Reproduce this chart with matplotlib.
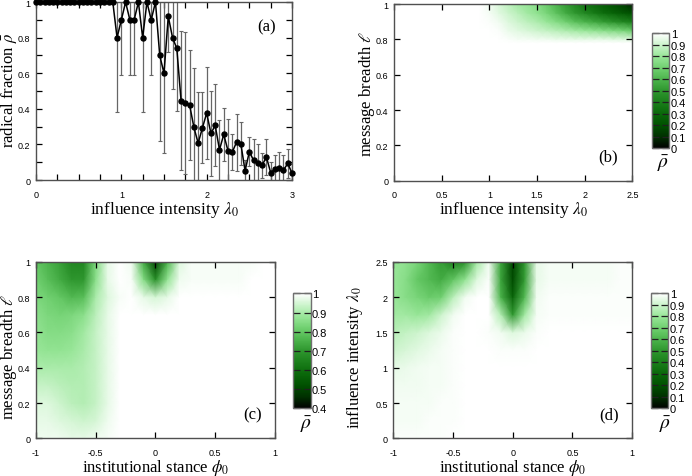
import numpy as np
import matplotlib.pyplot as plt
from matplotlib.colors import LinearSegmentedColormap
from matplotlib.ticker import MultipleLocator

plt.rcParams['mathtext.fontset'] = 'stix'
plt.rcParams['axes.unicode_minus'] = False

# (a) radical fraction vs influence intensity
lam0 = [0.00, 0.05, 0.10, 0.15, 0.20, 0.25, 0.30, 0.35, 0.40, 0.45,
        0.50, 0.55, 0.60, 0.65, 0.70, 0.75, 0.80, 0.85, 0.90, 0.95,
        1.00, 1.05, 1.10, 1.15, 1.20, 1.25, 1.30, 1.35, 1.40, 1.45,
        1.50, 1.55, 1.60, 1.65, 1.70, 1.75, 1.80, 1.85, 1.90, 1.95,
        2.00, 2.05, 2.10, 2.15, 2.20, 2.25, 2.30, 2.35, 2.40, 2.45,
        2.50, 2.55, 2.60, 2.65, 2.70, 2.75, 2.80, 2.85, 2.90, 2.95, 3.00]
rho = [1, 1, 1, 1, 1, 1, 1, 1, 1, 1,
       1, 1, 1, 1, 1, 1, 1, 1, 1, 0.80,
       0.90, 1.0, 0.90, 0.90, 1.0, 0.80, 1.0, 0.90, 1.0, 0.70,
       0.60, 0.92, 0.80, 0.74, 0.445, 0.434, 0.422, 0.297, 0.207, 0.293,
       0.376, 0.262, 0.307, 0.17, 0.256, 0.164, 0.157, 0.213, 0.204, 0.052,
       0.159, 0.11, 0.093, 0.084, 0.129, 0.041, 0.062, 0.069, 0.056, 0.093, 0.039]
rho_err = [0, 0, 0, 0, 0, 0, 0, 0, 0, 0,
           0, 0, 0, 0, 0, 0, 0, 0, 0, 0.42,
           0.31, 0, 0.31, 0.31, 0, 0.42, 0, 0.31, 0, 0.48,
           0.45, 0.20, 0.29, 0.35, 0.39, 0.40, 0.31, 0.33, 0.29, 0.20,
           0.26, 0.24, 0.23, 0.17, 0.15, 0.18, 0.10, 0.16, 0.12, 0.06,
           0.08, 0.12, 0.11, 0.07, 0.10, 0.06, 0.08, 0.09, 0.085, 0.08, 0.05]

# (b) rho over (lambda0, ell)
b_lam = [0, 0.9, 1.0, 1.1, 1.2, 1.3, 1.4, 1.5, 1.6, 1.7, 1.8, 1.9, 2.0, 2.1, 2.2, 2.3, 2.4, 2.5]
b_ell = [0, 0.78, 0.8, 0.85, 0.9, 0.95, 1.0]
b_rho = [
    [1] * 18,
    [1] * 18,
    [1, 1, 1, 1, 0.99, 0.98, 0.98, 0.97, 0.97, 0.96, 0.96, 0.95, 0.95, 0.95, 0.95, 0.94, 0.94, 0.93],
    [1, 1, 1, 0.99, 0.96, 0.94, 0.92, 0.90, 0.88, 0.86, 0.84, 0.82, 0.80, 0.78, 0.76, 0.74, 0.72, 0.68],
    [1, 1, 0.99, 0.97, 0.93, 0.90, 0.87, 0.84, 0.80, 0.75, 0.70, 0.64, 0.60, 0.56, 0.52, 0.48, 0.44, 0.40],
    [1, 1, 0.98, 0.94, 0.90, 0.86, 0.82, 0.78, 0.72, 0.65, 0.57, 0.50, 0.44, 0.38, 0.32, 0.28, 0.24, 0.20],
    [1, 1, 0.97, 0.92, 0.87, 0.82, 0.79, 0.75, 0.68, 0.60, 0.52, 0.44, 0.35, 0.30, 0.25, 0.20, 0.15, 0.08],
]

# (c) rho over (phi0, ell)
phi0 = [-1, -0.9, -0.8, -0.7, -0.6, -0.5, -0.4, -0.3, -0.2, -0.1, 0,
        0.1, 0.2, 0.3, 0.4, 0.5, 0.6, 0.7, 0.8, 0.9, 1]
c_ell = [0, 0.1, 0.2, 0.3, 0.4, 0.5, 0.6, 0.7, 0.8, 0.9, 1.0]
c_rho = [
    [0.98, 0.98, 0.98, 0.97, 0.97, 0.98, 0.99] + [1] * 14,
    [0.97, 0.97, 0.96, 0.95, 0.94, 0.95, 0.98] + [1] * 14,
    [0.96, 0.96, 0.94, 0.92, 0.91, 0.93, 0.97] + [1] * 14,
    [0.93, 0.93, 0.92, 0.91, 0.91, 0.93, 0.97] + [1] * 14,
    [0.90, 0.90, 0.90, 0.90, 0.91, 0.93, 0.97] + [1] * 14,
    [0.88, 0.87, 0.87, 0.88, 0.90, 0.93, 0.97] + [1] * 14,
    [0.87, 0.85, 0.85, 0.86, 0.89, 0.93, 0.97] + [1] * 14,
    [0.86, 0.84, 0.83, 0.84, 0.86, 0.92, 0.97] + [1] * 14,
    [0.84, 0.82, 0.80, 0.77, 0.78, 0.90, 0.96, 0.99, 1, 0.97, 0.95, 0.97, 1, 1, 1, 1, 1, 1, 1, 1, 1],
    [0.82, 0.78, 0.74, 0.70, 0.70, 0.86, 0.97, 1, 0.99, 0.85, 0.68, 0.87, 0.98, 0.99, 0.99, 0.99, 0.99, 0.99, 1, 1, 1],
    [0.80, 0.76, 0.72, 0.66, 0.66, 0.84, 0.97, 1, 0.98, 0.74, 0.50, 0.76, 0.96, 0.99, 0.99, 0.99, 0.99, 0.99, 0.99, 1, 1],
]

# (d) rho over (phi0, lambda0)
d_lam = [0, 0.25, 0.5, 0.75, 1.0, 1.25, 1.5, 1.75, 2.0, 2.25, 2.5]
d_rho = [
    [0.99, 0.99, 0.99, 0.99, 0.99] + [1] * 16,
    [0.98, 0.98, 0.98, 0.99, 0.99, 0.99] + [1] * 15,
    [0.98, 0.98, 0.98, 0.98, 0.99, 0.99] + [1] * 15,
    [0.97, 0.97, 0.97, 0.98, 0.98, 0.99] + [1] * 15,
    [0.95, 0.96, 0.97, 0.98, 0.98, 0.99] + [1] * 15,
    [0.90, 0.92, 0.94, 0.96, 0.98, 0.99, 1, 1, 1, 0.99, 0.99, 0.99] + [1] * 9,
    [0.86, 0.88, 0.90, 0.93, 0.96, 0.99, 1, 1, 0.99, 0.97, 0.93, 0.96, 0.99] + [1] * 8,
    [0.82, 0.82, 0.80, 0.82, 0.90, 0.97, 1, 1, 1, 0.85, 0.50, 0.82, 0.98] + [0.99] * 8,
    [0.80, 0.76, 0.72, 0.68, 0.70, 0.86, 0.97, 1, 1, 0.60, 0.28, 0.62, 0.97] + [0.99] * 8,
    [0.80, 0.76, 0.67, 0.62, 0.57, 0.66, 0.78, 0.93, 0.99, 0.55, 0.18, 0.52, 0.95] + [0.98] * 6 + [0.99, 0.99],
    [0.80, 0.78, 0.72, 0.62, 0.52, 0.42, 0.48, 0.82, 0.97, 0.55, 0.17, 0.50, 0.95] + [0.98] * 6 + [0.99, 0.99],
]

greens = LinearSegmentedColormap.from_list('gwhite', [
    (0.0, '#000000'), (0.1, '#003000'), (0.2, '#005000'), (0.3, '#0a680a'),
    (0.4, '#1a7e1a'), (0.5, '#2e962e'), (0.6, '#4cb44c'), (0.7, '#70d070'),
    (0.8, '#98e698'), (0.9, '#ccf4cc'), (1.0, '#ffffff')])

label_font = dict(family='Liberation Serif', size=12.5)
ylabel_font = dict(family='Liberation Serif', size=12)
tick_font = 'Liberation Sans'
frame_col = '#505050'

fig = plt.figure(figsize=(6.92, 4.77), dpi=100)
ax_a = fig.add_axes([0.052, 0.6205, 0.370, 0.373])
ax_b = fig.add_axes([0.5694, 0.619, 0.3444, 0.3704])
ax_c = fig.add_axes([0.052, 0.079, 0.3454, 0.370])
ax_d = fig.add_axes([0.5684, 0.079, 0.345, 0.370])
cax_b = fig.add_axes([0.9418, 0.687, 0.0254, 0.241])
cax_c = fig.add_axes([0.4238, 0.1419, 0.0251, 0.241])
cax_d = fig.add_axes([0.9408, 0.1419, 0.0251, 0.241])


def style(ax, xl, yl, xlab, ylab, xsize=12.5):
    for s in ax.spines.values():
        s.set_color(frame_col)
        s.set_linewidth(1.0)
    ax.tick_params(which='both', direction='in', top=True, right=True,
                   length=4, width=0.9, labelsize=6.5)
    ax.tick_params(axis='x', pad=7)
    ax.tick_params(axis='y', pad=4)
    for lab in ax.get_xticklabels() + ax.get_yticklabels():
        lab.set_fontfamily(tick_font)
    ax.set_xlabel(xl, family='Liberation Serif', size=xsize)
    ax.set_ylabel(yl, fontdict=ylabel_font)
    ax.xaxis.set_label_coords(0.5, xlab)
    ax.yaxis.set_label_coords(ylab[0], ylab[1])


# panel (a)
err = np.array(rho_err)
ax_a.errorbar(lam0, rho, yerr=np.where(err > 0, err, np.nan), fmt='none',
              ecolor='#666666', elinewidth=0.9, capsize=1.5, capthick=0.8)
ax_a.plot(lam0, rho, '-o', color='black', lw=1.1, ms=3.6, zorder=3, clip_on=False)
ax_a.set_xlim(0, 3)
ax_a.set_ylim(0, 1)
ax_a.set_xticks([0, 1, 2, 3])
ax_a.xaxis.set_minor_locator(MultipleLocator(0.25))
ax_a.set_yticks([0, 0.2, 0.4, 0.6, 0.8, 1])
ax_a.set_yticklabels(['0', '0.2', '0.4', '0.6', '0.8', '1'])
ax_a.yaxis.set_minor_locator(MultipleLocator(0.1))
ax_a.text(0.9, 0.865, '(a)', transform=ax_a.transAxes, ha='center', va='center',
          family='Liberation Serif', size=12)
style(ax_a, r'influence intensity $\lambda_0$', r'radical fraction $\bar{\rho}$',
      -0.107, (-0.066, 0.511))

# panel (b)
m_b = ax_b.pcolormesh(b_lam, b_ell, b_rho, cmap=greens, vmin=0, vmax=1, shading='gouraud')
ax_b.set_xlim(0, 2.5)
ax_b.set_ylim(0, 1)
ax_b.set_xticks([0, 0.5, 1, 1.5, 2, 2.5])
ax_b.set_xticklabels(['0', '0.5', '1', '1.5', '2', '2.5'])
ax_b.set_yticks([0, 0.2, 0.4, 0.6, 0.8, 1])
ax_b.set_yticklabels(['0', '0.2', '0.4', '0.6', '0.8', '1'])
ax_b.text(0.9, 0.14, '(b)', transform=ax_b.transAxes, ha='center', va='center',
          family='Liberation Serif', size=12)
style(ax_b, r'influence intensity $\lambda_0$', r'message breadth $\ell$',
      -0.104, (-0.072, 0.496))

# panel (c)
m_c = ax_c.pcolormesh(phi0, c_ell, c_rho, cmap=greens, vmin=0.4, vmax=1, shading='gouraud')
ax_c.set_xlim(-1, 1)
ax_c.set_ylim(0, 1)
ax_c.set_xticks([-1, -0.5, 0, 0.5, 1])
ax_c.set_xticklabels(['-1', '-0.5', '0', '0.5', '1'])
ax_c.set_yticks([0, 0.2, 0.4, 0.6, 0.8, 1])
ax_c.set_yticklabels(['0', '0.2', '0.4', '0.6', '0.8', '1'])
ax_c.text(0.907, 0.137, '(c)', transform=ax_c.transAxes, ha='center', va='center',
          family='Liberation Serif', size=12)
style(ax_c, r'institutional stance $\phi_0$', r'message breadth $\ell$',
      -0.108, (-0.071, 0.466), xsize=12)

# panel (d)
m_d = ax_d.pcolormesh(phi0, d_lam, d_rho, cmap=greens, vmin=0, vmax=1, shading='gouraud')
ax_d.set_xlim(-1, 1)
ax_d.set_ylim(0, 2.5)
ax_d.set_xticks([-1, -0.5, 0, 0.5, 1])
ax_d.set_xticklabels(['-1', '-0.5', '0', '0.5', '1'])
ax_d.set_yticks([0, 0.5, 1, 1.5, 2, 2.5])
ax_d.set_yticklabels(['0', '0.5', '1', '1.5', '2', '2.5'])
ax_d.text(0.904, 0.137, '(d)', transform=ax_d.transAxes, ha='center', va='center',
          family='Liberation Serif', size=12)
style(ax_d, r'institutional stance $\phi_0$', r'influence intensity $\lambda_0$',
      -0.108, (-0.12, 0.463), xsize=12)

# colour bars
for mesh, cax, ticks, lx in [(m_b, cax_b, [0, 0.1, 0.2, 0.3, 0.4, 0.5, 0.6, 0.7, 0.8, 0.9, 1], 0.64),
                             (m_c, cax_c, [0.4, 0.5, 0.6, 0.7, 0.8, 0.9, 1], 0.75),
                             (m_d, cax_d, [0, 0.1, 0.2, 0.3, 0.4, 0.5, 0.6, 0.7, 0.8, 0.9, 1], 0.8)]:
    cb = fig.colorbar(mesh, cax=cax, ticks=ticks)
    cb.ax.set_yticklabels(['%g' % t for t in ticks])
    cb.outline.set_edgecolor('#707070')
    cb.outline.set_linewidth(1.0)
    cax.tick_params(direction='in', left=True, right=True, length=5, width=0.9,
                    labelsize=8, pad=1, color='#202020')
    for lab in cax.get_yticklabels():
        lab.set_fontfamily(tick_font)
    cax.text(lx, -0.13, r'$\bar{\rho}$', transform=cax.transAxes, ha='center', va='center',
             size=14)

fig.savefig('out.png', dpi=100)
